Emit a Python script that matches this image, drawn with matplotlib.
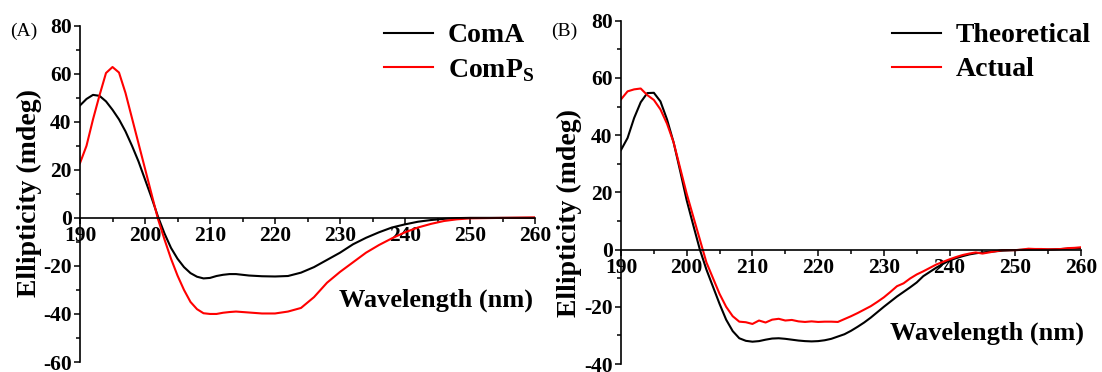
import matplotlib
matplotlib.use("Agg")
import matplotlib.pyplot as plt
from matplotlib.ticker import MultipleLocator

plt.rcParams['font.family'] = ['Liberation Serif', 'DejaVu Serif']
plt.rcParams['font.weight'] = 'bold'
plt.rcParams['axes.unicode_minus'] = False

# Panel A data (wavelength nm, ellipticity mdeg)
wl_a = [190, 191, 192, 193, 194, 195, 196, 197, 198, 199, 200, 201, 202, 203, 204,
        205, 206, 207, 208, 209, 210, 211, 212, 213, 214, 215, 216, 218, 220, 222,
        224, 226, 228, 230, 232, 234, 236, 238, 240, 242, 244, 246, 248, 250, 255, 260]
coma = [46.8, 49.5, 51.2, 50.8, 48.5, 45, 41, 36, 30, 23.5, 16, 8.5, 0.5, -6.5, -12.5,
        -17, -20.5, -23, -24.5, -25.2, -25, -24.2, -23.7, -23.4, -23.4, -23.7, -24, -24.3, -24.4, -24.2,
        -22.8, -20.5, -17.5, -14.5, -11, -8.3, -6, -4, -2.7, -1.6, -0.9, -0.4, -0.1, 0, 0, 0]
comps = [22.8, 30, 41, 51, 60.3, 62.8, 60.5, 52, 41.5, 31, 20.5, 10, -0.5, -9, -17,
         -24, -30, -35, -38, -39.7, -40, -40, -39.5, -39.2, -39, -39.2, -39.4, -39.8, -39.8, -39,
         -37.5, -33, -27, -22.5, -18.5, -14.5, -11.3, -8.5, -6, -4, -2.5, -1.3, -0.6, -0.2, 0, 0.2]

# Panel B data
wl_b = list(range(190, 261))
theo = [34.8, 39, 46, 51.5, 54.7, 54.8, 51.8, 45.5, 37.5, 27.5, 17.2, 8.5, 0, -7, -13,
        -19, -24.5, -28.5, -31, -31.9, -32.2, -32, -31.5, -31.1, -31, -31.2, -31.5, -31.8, -32, -32.1,
        -32, -31.7, -31.2, -30.4, -29.6, -28.4, -27, -25.5, -23.8, -21.9, -20, -18.2, -16.4, -14.8, -13.2,
        -11.5, -9.3, -7.8, -6.3, -5, -3.8, -3, -2.3, -1.7, -1.3, -1, -0.8, -0.6, -0.4, -0.3,
        -0.2, -0.1, 0, 0, 0, 0, 0.1, 0.2, 0.3, 0.4, 0.5]
actual = [52.5, 55.3, 56, 56.3, 54, 52.3, 49, 44, 37.5, 28.5, 19.5, 11.5, 3.5, -4.5, -10,
          -15.5, -20, -23.3, -25.2, -25.4, -26, -24.8, -25.5, -24.5, -24.2, -24.8, -24.6, -25.1, -25.3, -25.1,
          -25.3, -25.2, -25.2, -25.3, -24.3, -23.3, -22.2, -21, -19.8, -18.3, -16.7, -14.8, -12.8, -11.8, -10.1,
          -8.7, -7.6, -6.4, -5.2, -4.3, -3.4, -2.6, -1.9, -1.4, -1, -1.4, -1, -0.6, -0.2, -0.2,
          -0.2, 0, 0.3, 0.2, 0.2, 0.1, 0.1, 0.2, 0.5, 0.6, 0.8]

fig = plt.figure(figsize=(11.02, 3.72), dpi=100)
ax1 = fig.add_axes([80 / 1102, 1 - 362 / 372, 455 / 1102, 336.3 / 372])
ax2 = fig.add_axes([621 / 1102, 1 - 364 / 372, 460 / 1102, 343.3 / 372])


def style(ax, ymin, ymax):
    ax.set_xlim(190, 260)
    ax.set_ylim(ymin, ymax)
    ax.spines['top'].set_visible(False)
    ax.spines['right'].set_visible(False)
    ax.spines['bottom'].set_position(('data', 0))
    for s in ('left', 'bottom'):
        ax.spines[s].set_linewidth(1.2)
    ax.xaxis.set_major_locator(MultipleLocator(10))
    ax.xaxis.set_minor_locator(MultipleLocator(5))
    ax.yaxis.set_major_locator(MultipleLocator(20))
    ax.yaxis.set_minor_locator(MultipleLocator(10))
    ax.tick_params(which='both', direction='out', width=1.1, labelsize=15.5, pad=2)
    ax.tick_params(which='major', length=4)
    ax.tick_params(which='minor', length=3)
    for lab in ax.get_xticklabels() + ax.get_yticklabels():
        lab.set_fontweight('bold')


leg_kw = dict(loc='upper left', bbox_transform=fig.transFigure, frameon=False,
              handlelength=1.76, handletextpad=0.54, labelspacing=0.3, borderpad=0,
              borderaxespad=0, prop={'weight': 'bold', 'size': 20})

ax1.plot(wl_a, coma, color='black', lw=1.5, label='ComA')
ax1.plot(wl_a, comps, color='red', lw=1.5, label=r'ComP$_\mathregular{S}$')
style(ax1, -60, 80)
ax1.set_ylabel('Ellipticity (mdeg)', fontsize=20, fontweight='bold')
ax1.yaxis.set_label_coords(42 / 1102, 1 - 193 / 372, transform=fig.transFigure)
fig.text(436 / 1102, 1 - 300 / 372, 'Wavelength (nm)', fontsize=19,
         fontweight='bold', ha='center', va='center')
ax1.legend(bbox_to_anchor=(384 / 1102, 1 - 23 / 372), **leg_kw)
fig.text(10 / 1102, 1 - 31 / 372, '(A)', fontsize=14, fontweight='normal', va='center')

ax2.plot(wl_b, theo, color='black', lw=1.5, label='Theoretical')
ax2.plot(wl_b, actual, color='red', lw=1.5, label='Actual')
style(ax2, -40, 80)
ax2.set_ylabel('Ellipticity (mdeg)', fontsize=20, fontweight='bold')
ax2.yaxis.set_label_coords(582 / 1102, 1 - 213 / 372, transform=fig.transFigure)
fig.text(987 / 1102, 1 - 333 / 372, 'Wavelength (nm)', fontsize=19,
         fontweight='bold', ha='center', va='center')
ax2.legend(bbox_to_anchor=(892 / 1102, 1 - 23 / 372), **leg_kw)
fig.text(551 / 1102, 1 - 31 / 372, '(B)', fontsize=14, fontweight='normal', va='center')

fig.savefig('out.png', dpi=100)
